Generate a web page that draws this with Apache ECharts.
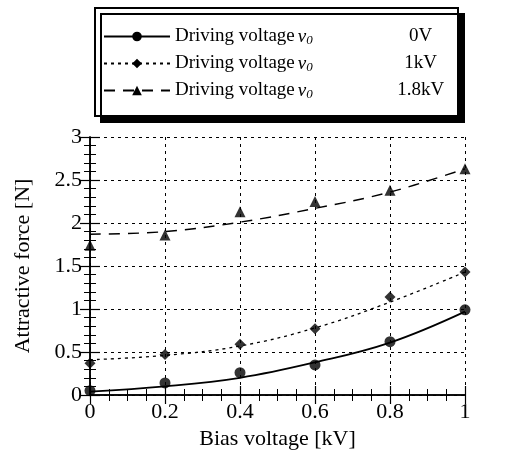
<!DOCTYPE html>
<html>
<head>
<meta charset="utf-8">
<script src="https://cdn.jsdelivr.net/npm/echarts@6/dist/echarts.min.js"></script>
<style>
  html, body { margin:0; padding:0; background:#fff; }
  #chart { width:505px; height:456px; }
</style>
</head>
<body>
<div id="chart"></div>
<script>
        // bias voltage [kV]
        var biasV = [0, 0.2, 0.4, 0.6, 0.8, 1];
        // measured points
        var measured0V   = [0.05, 0.14, 0.26, 0.35, 0.62, 0.99];
        var measured1kV  = [0.37, 0.47, 0.59, 0.77, 1.14, 1.43];
        var measured18kV = [1.74, 1.86, 2.13, 2.25, 2.38, 2.63];
        // fitted curves
        var curve0V   = [0.04, 0.10, 0.20, 0.38, 0.61, 0.97];
        var curve1kV  = [0.41, 0.46, 0.57, 0.78, 1.08, 1.43];
        var curve18kV = [1.87, 1.90, 2.01, 2.17, 2.36, 2.63];
        var seriesNames = ['0V', '1kV', '1.8kV'];
        var yTicks = ['0', '0.5', '1', '1.5', '2', '2.5', '3'];

        function pairs(ys){
            var out = [];
            for(var i=0;i<biasV.length;i++){
                out.push([biasV[i], ys[i]]);
            }
            return out;
        }

        var font = "Liberation Serif";
        var chart = echarts.init(document.getElementById('chart'));

        var axisLineStyle = {show:true, lineStyle:{color:'#000', width:1.5}};

        var option = {
            animation:false,
            backgroundColor:'#fff',
            graphic:[
                {
                    type:'rect',
                    z:0,
                    shape:{x:95, y:8, width:363, height:108},
                    style:{fill:'#fff', stroke:'#000', lineWidth:2,
                        shadowColor:'#000', shadowBlur:0, shadowOffsetX:6, shadowOffsetY:6}
                }
            ],
            legend:{
                orient:'vertical',
                left:98,
                top:22,
                itemWidth:66,
                itemHeight:12,
                itemGap:7,
                z:10,
                data:seriesNames,
                formatter:function(name){
                    return '{a|Driving voltage}{p|}{v|v}{s|0}{g|}{b|' + name + '}';
                },
                textStyle:{
                    fontFamily:font,
                    fontSize:19,
                    color:'#000',
                    rich:{
                        a:{fontFamily:font, fontSize:19, color:'#000'},
                        p:{width:3},
                        v:{fontFamily:font, fontSize:19, fontStyle:'italic', color:'#000'},
                        s:{fontFamily:font, fontSize:13, fontStyle:'italic', color:'#000', padding:[8,0,0,0]},
                        g:{width:76},
                        b:{fontFamily:font, fontSize:19, color:'#000', width:64, align:'center'}
                    }
                }
            },
            grid:{left:90, right:40, top:137, bottom:61, show:false},
            xAxis:[
                {
                    type:'value', min:0, max:1, interval:0.2,
                    position:'bottom',
                    name:'Bias voltage [kV]',
                    nameLocation:'middle',
                    nameGap:30,
                    nameTextStyle:{fontFamily:font, fontSize:22, color:'#000'},
                    axisLine:axisLineStyle,
                    axisTick:{show:true, inside:true, length:9, lineStyle:{color:'#000', width:1.2}},
                    minorTick:{show:true, splitNumber:4, length:6, lineStyle:{color:'#000', width:1}},
                    axisLabel:{fontFamily:font, fontSize:22, color:'#000', margin:6},
                    splitLine:{show:true, lineStyle:{color:'#000', type:[3,4], width:1}}
                },
                {
                    type:'value', min:0, max:1, interval:0.2,
                    position:'top',
                    axisLine:axisLineStyle,
                    axisTick:{show:true, inside:true, length:9, lineStyle:{color:'#000', width:1.2}},
                    minorTick:{show:true, splitNumber:4, length:6, lineStyle:{color:'#000', width:1}},
                    axisLabel:{show:false},
                    splitLine:{show:false}
                }
            ],
            yAxis:[
                {
                    type:'value', min:0, max:3, interval:0.5,
                    position:'left',
                    name:'Attractive force [N]',
                    nameLocation:'middle',
                    nameGap:56,
                    nameTextStyle:{fontFamily:font, fontSize:22, color:'#000'},
                    axisLine:axisLineStyle,
                    axisTick:{show:true, inside:true, length:10, lineStyle:{color:'#000', width:1.2}},
                    minorTick:{show:true, splitNumber:5, length:6, lineStyle:{color:'#000', width:1}},
                    axisLabel:{fontFamily:font, fontSize:22, color:'#000', margin:8,
                        formatter:function(v, idx){ return yTicks[idx]; }},
                    splitLine:{show:true, lineStyle:{color:'#000', type:[3,4], width:1}}
                },
                {
                    type:'value', min:0, max:3, interval:0.5,
                    position:'right',
                    axisLine:axisLineStyle,
                    axisTick:{show:true, inside:true, length:10, lineStyle:{color:'#000', width:1.2}},
                    minorTick:{show:true, splitNumber:5, length:6, lineStyle:{color:'#000', width:1}},
                    axisLabel:{show:false},
                    splitLine:{show:false}
                }
            ],
            series:[
                {
                    name:'0V', type:'line', smooth:0.4, showSymbol:false,
                    symbol:'circle', symbolSize:10,
                    itemStyle:{color:'#000'},
                    lineStyle:{color:'#000', width:1.8, type:'solid'},
                    data:pairs(curve0V), z:3
                },
                {
                    name:'1kV', type:'line', smooth:0.4, showSymbol:false,
                    symbol:'diamond', symbolSize:10,
                    itemStyle:{color:'#000'},
                    lineStyle:{color:'#000', width:1.3, type:[3,4]},
                    data:pairs(curve1kV), z:3
                },
                {
                    name:'1.8kV', type:'line', smooth:0.4, showSymbol:false,
                    symbol:'triangle', symbolSize:10,
                    itemStyle:{color:'#000'},
                    lineStyle:{color:'#000', width:1.4, type:[11,8]},
                    data:pairs(curve18kV), z:3
                },
                {
                    type:'scatter', symbol:'circle', symbolSize:11,
                    itemStyle:{color:'#000'},
                    data:pairs(measured0V), z:4
                },
                {
                    type:'scatter', symbol:'diamond', symbolSize:11,
                    itemStyle:{color:'#000'},
                    data:pairs(measured1kV), z:4
                },
                {
                    type:'scatter', symbol:'triangle', symbolSize:11,
                    itemStyle:{color:'#000'},
                    data:pairs(measured18kV), z:4
                }
            ]
        };
        chart.setOption(option);
</script>
</body>
</html>
